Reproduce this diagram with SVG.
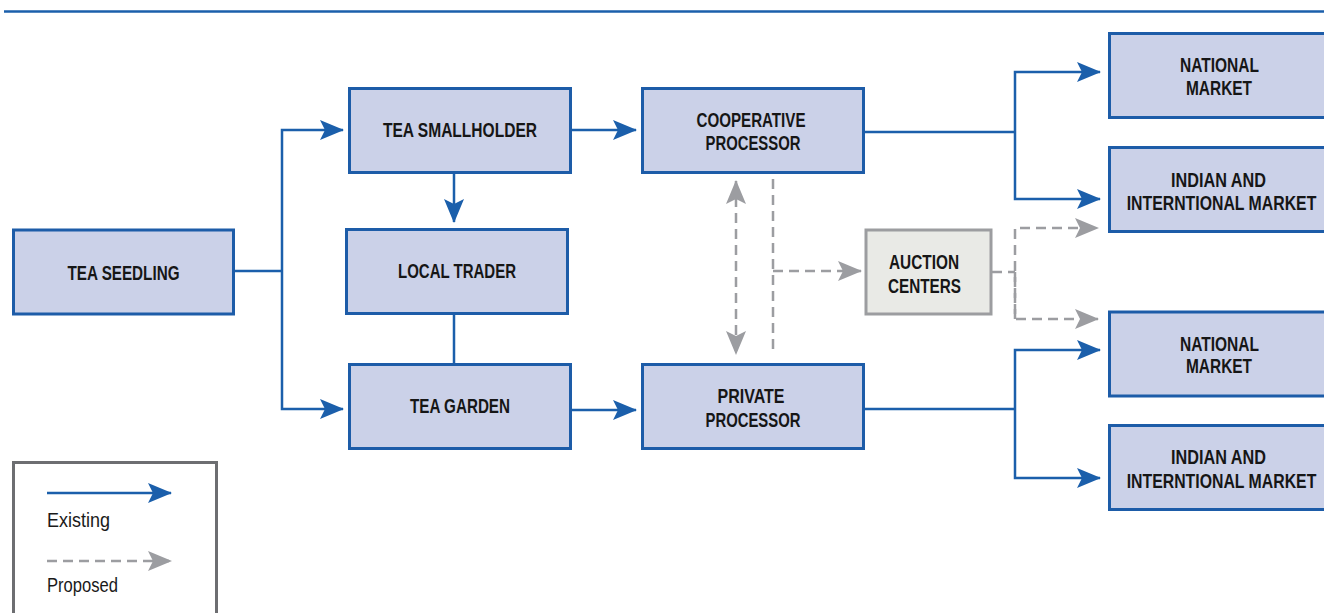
<svg xmlns="http://www.w3.org/2000/svg" width="1324" height="613" viewBox="0 0 1324 613">
  <defs>
    <style>
      .box { fill: #cbd1e8; stroke: #1d5ca8; stroke-width: 3; }
      .abox { fill: #e9eae6; stroke: #9c9da0; stroke-width: 3; }
      .lbl { font-family: "Liberation Sans", Arial, sans-serif; font-weight: bold; font-size: 20px; fill: #161616; text-anchor: middle; }
      .leg { font-family: "Liberation Sans", Arial, sans-serif; font-size: 20px; fill: #1a1a1a; }
      .solid { fill: none; stroke: #1b5fab; stroke-width: 2.5; }
      .dash { fill: none; stroke: #9c9da1; stroke-width: 2.5; stroke-dasharray: 10 6; }
    </style>
    <marker id="ah-blue" markerUnits="userSpaceOnUse" viewBox="0 0 24 20" refX="23" refY="10" markerWidth="24" markerHeight="20" orient="auto-start-reverse">
      <path d="M0,0 L24,10 L0,20 L5,10 Z" fill="#1b5fab"/>
    </marker>
    <marker id="ah-gray" markerUnits="userSpaceOnUse" viewBox="0 0 24 20" refX="23" refY="10" markerWidth="24" markerHeight="20" orient="auto-start-reverse">
      <path d="M0,0 L24,10 L0,20 L5,10 Z" fill="#9c9da1"/>
    </marker>
  </defs>

  <!-- header rule -->
  <line x1="4" y1="11.5" x2="1324" y2="11.5" stroke="#1b5fab" stroke-width="2.5"/>

  <!-- connectors -->
  <g id="connectors">
    <!-- seedling fan-out -->
    <polyline class="solid" points="234,271 282,271"/>
    <polyline class="solid" points="282,271 282,130 343,130" marker-end="url(#ah-blue)"/>
    <polyline class="solid" points="282,271 282,409 343,409" marker-end="url(#ah-blue)"/>
    <!-- smallholder to local trader -->
    <line class="solid" x1="454" y1="173" x2="454" y2="222" marker-end="url(#ah-blue)"/>
    <!-- local trader to garden -->
    <line class="solid" x1="454" y1="314" x2="454" y2="364"/>
    <!-- to processors -->
    <line class="solid" x1="571" y1="130" x2="636" y2="130" marker-end="url(#ah-blue)"/>
    <line class="solid" x1="571" y1="410" x2="636" y2="410" marker-end="url(#ah-blue)"/>
    <!-- cooperative to markets -->
    <polyline class="solid" points="864,132 1015,132"/>
    <polyline class="solid" points="1015,132 1015,72 1100,72" marker-end="url(#ah-blue)"/>
    <polyline class="solid" points="1015,132 1015,199 1100,199" marker-end="url(#ah-blue)"/>
    <!-- private to markets -->
    <polyline class="solid" points="864,409 1015,409"/>
    <polyline class="solid" points="1015,409 1015,350 1100,350" marker-end="url(#ah-blue)"/>
    <polyline class="solid" points="1015,409 1015,478 1100,478" marker-end="url(#ah-blue)"/>
    <!-- proposed links -->
    <line class="dash" x1="736" y1="181" x2="736" y2="354" marker-start="url(#ah-gray)" marker-end="url(#ah-gray)"/>
    <line class="dash" x1="773" y1="179" x2="773" y2="355"/>
    <line class="dash" x1="773" y1="271" x2="861" y2="271" marker-end="url(#ah-gray)"/>
    <line class="dash" x1="992" y1="272" x2="1015" y2="272"/>
    <polyline class="dash" points="1015,319 1015,228 1098,228" marker-end="url(#ah-gray)"/>
    <polyline class="dash" points="1015,272 1015,319 1098,319" marker-end="url(#ah-gray)"/>
  </g>

  <g id="tea-seedling">
    <rect class="box" x="13.5" y="230" width="220" height="84"/>
    <text class="lbl" x="123.5" y="280" textLength="112" lengthAdjust="spacingAndGlyphs">TEA SEEDLING</text>
  </g>
  <g id="tea-smallholder">
    <rect class="box" x="349.5" y="88.5" width="221" height="84"/>
    <text class="lbl" x="460" y="137" textLength="154" lengthAdjust="spacingAndGlyphs">TEA SMALLHOLDER</text>
  </g>
  <g id="local-trader">
    <rect class="box" x="346.5" y="229.5" width="221" height="84"/>
    <text class="lbl" x="457" y="278" textLength="118" lengthAdjust="spacingAndGlyphs">LOCAL TRADER</text>
  </g>
  <g id="tea-garden">
    <rect class="box" x="349.5" y="364.5" width="221" height="84"/>
    <text class="lbl" x="460" y="413" textLength="100" lengthAdjust="spacingAndGlyphs">TEA GARDEN</text>
  </g>
  <g id="cooperative-processor">
    <rect class="box" x="642.5" y="88.5" width="221" height="84"/>
    <text class="lbl" x="751" y="127" textLength="109" lengthAdjust="spacingAndGlyphs">COOPERATIVE</text>
    <text class="lbl" x="753" y="150" textLength="95" lengthAdjust="spacingAndGlyphs">PROCESSOR</text>
  </g>
  <g id="private-processor">
    <rect class="box" x="642.5" y="364.5" width="221" height="84"/>
    <text class="lbl" x="751" y="403" textLength="67" lengthAdjust="spacingAndGlyphs">PRIVATE</text>
    <text class="lbl" x="753" y="427" textLength="95" lengthAdjust="spacingAndGlyphs">PROCESSOR</text>
  </g>
  <g id="auction-centers">
    <rect class="abox" x="866" y="230" width="125" height="84"/>
    <text class="lbl" x="924" y="269" textLength="70" lengthAdjust="spacingAndGlyphs">AUCTION</text>
    <text class="lbl" x="924.5" y="293" textLength="73" lengthAdjust="spacingAndGlyphs">CENTERS</text>
  </g>
  <g id="national-market-1">
    <rect class="box" x="1109.5" y="33.5" width="222" height="84"/>
    <text class="lbl" x="1219.5" y="72" textLength="79" lengthAdjust="spacingAndGlyphs">NATIONAL</text>
    <text class="lbl" x="1219" y="95" textLength="66" lengthAdjust="spacingAndGlyphs">MARKET</text>
  </g>
  <g id="intl-market-1">
    <rect class="box" x="1109.5" y="147.5" width="222" height="84"/>
    <text class="lbl" x="1218.5" y="187" textLength="95" lengthAdjust="spacingAndGlyphs">INDIAN AND</text>
    <text class="lbl" transform="translate(1221.5,210) scale(0.79,1)" x="0" y="0" textLength="240" lengthAdjust="spacingAndGlyphs">INTERNTIONAL MARKET</text>
  </g>
  <g id="national-market-2">
    <rect class="box" x="1109.5" y="312" width="222" height="84"/>
    <text class="lbl" x="1219.5" y="351" textLength="79" lengthAdjust="spacingAndGlyphs">NATIONAL</text>
    <text class="lbl" x="1219" y="373" textLength="66" lengthAdjust="spacingAndGlyphs">MARKET</text>
  </g>
  <g id="intl-market-2">
    <rect class="box" x="1109.5" y="425.5" width="222" height="84"/>
    <text class="lbl" x="1218.5" y="464" textLength="95" lengthAdjust="spacingAndGlyphs">INDIAN AND</text>
    <text class="lbl" transform="translate(1221.5,488) scale(0.79,1)" x="0" y="0" textLength="240" lengthAdjust="spacingAndGlyphs">INTERNTIONAL MARKET</text>
  </g>

  <!-- legend -->
  <g id="legend">
    <rect x="13.5" y="462.5" width="203" height="160" fill="none" stroke="#6d6e71" stroke-width="3"/>
    <line class="solid" x1="47" y1="493" x2="171" y2="493" marker-end="url(#ah-blue)"/>
    <text class="leg" x="47" y="527" textLength="63" lengthAdjust="spacingAndGlyphs">Existing</text>
    <line class="dash" x1="47" y1="561" x2="171" y2="561" marker-end="url(#ah-gray)"/>
    <text class="leg" x="47" y="592" textLength="71" lengthAdjust="spacingAndGlyphs">Proposed</text>
  </g>
</svg>
